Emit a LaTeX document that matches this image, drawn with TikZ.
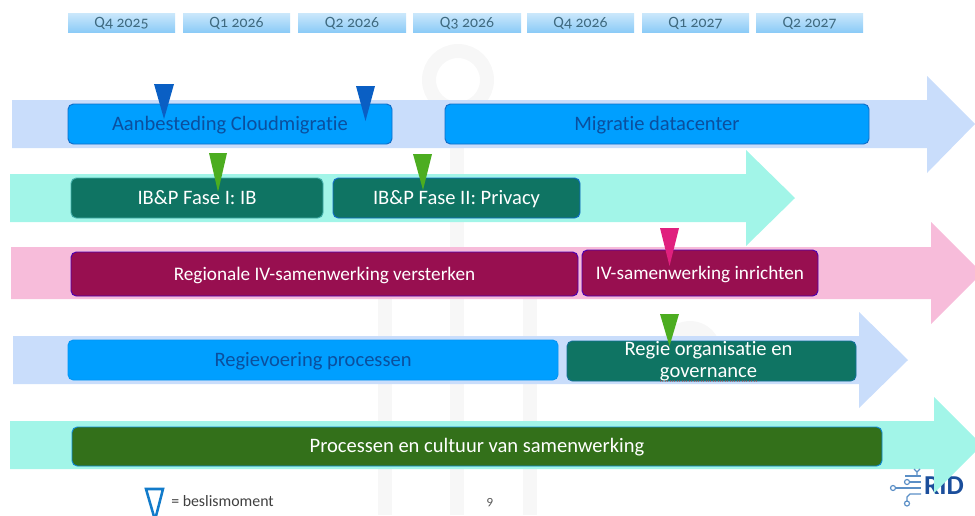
\documentclass[tikz,border=0pt]{standalone}
\usepackage{fontspec}
\setmainfont[Numbers=OldStyle,Ligatures=NoCommon]{Carlito}
\definecolor{lblue}{HTML}{C9DDFB}
\definecolor{lteal}{HTML}{A2F5E8}
\definecolor{lpink}{HTML}{F7BCDA}
\definecolor{bblue}{HTML}{009FFF}
\definecolor{eblue}{HTML}{0F6CC8}
\definecolor{tblue}{HTML}{0B4F9E}
\definecolor{dteal}{HTML}{0F7463}
\definecolor{wine}{HTML}{980F50}
\definecolor{moss}{HTML}{33701A}
\definecolor{triblue}{HTML}{0A5FC4}
\definecolor{trigreen}{HTML}{4CAD20}
\definecolor{tripink}{HTML}{E0207E}
\definecolor{wmark}{HTML}{F7F7F7}
\definecolor{qtext}{HTML}{3F6A80}
\definecolor{logoline}{HTML}{5B8FC6}
\definecolor{logotext}{HTML}{1B4E9B}
\definecolor{QB}{HTML}{8CCBF7}
\newcommand{\pxbox}[7]{%
  \pgfmathsetmacro{\bw}{(#4-#2)*0.75}\pgfmathsetmacro{\bh}{(#5-#3)*0.75}%
  \node[#6,minimum width=\bw pt,minimum height=\bh pt] (#1) at ({(#2+#4)/2},{(#3+#5)/2}) {#7};}
\tikzset{
  x=0.75pt,y=-0.75pt,
  band/.style={fill=#1,draw=none},
  wm/.style={draw=wmark,line width=10.5pt},
  quarter/.style={rectangle,inner sep=0pt,top color=QB!45!white,bottom color=QB,draw=none,text=qtext,text height=9.5pt,text depth=2pt,font=\fontsize{11.8}{13}\selectfont},
  task/.style={rectangle,rounded corners=4pt,inner sep=0pt,line width=0.7pt,text height=12pt,text depth=3pt,font=\fontsize{15.4}{18}\selectfont,align=center},
  bluetask/.style={task,fill=bblue,draw=eblue,text=tblue},
  bluetaskb/.style={task,fill=bblue,draw=bblue!80!eblue,text=tblue},
  tealtask/.style={task,fill=dteal,draw=eblue,text=white},
  tealtaskb/.style={task,fill=dteal,draw=teal!60!lteal,text=white},
  winetask/.style={task,fill=wine,draw=violet!60!blue,text=white,font=\fontsize{14.4}{17}\selectfont},
  mosstask/.style={task,fill=moss,draw=cyan!70!blue,text=white},
  overlabel/.style={font=\fontsize{15.4}{18}\selectfont,text=white,inner sep=0pt},
  tri/.style={fill=#1,draw=none},
  lg/.style={draw=logoline,line width=0.9pt}
}
\begin{document}
\begin{tikzpicture}
\useasboundingbox (0,0) rectangle (975,515);
\clip (0,0) rectangle (975,515);
% watermark
\draw[wm] (458,80) circle (29);
\draw[wm] (457,110) -- (457,515);
\draw[wm] (385,260) -- (385,515);
\draw[wm] (530,260) -- (530,515);
\draw[wm] (265,258) arc (180:0:29);
\draw[wm] (505,258) arc (180:0:25);
\fill[wmark] (690,352) circle (31);
% logo text (lies below the last arrow)
\node[font=\bfseries\fontsize{20.5}{22}\selectfont,text=logotext,inner sep=0pt] (logo) at (944,486) {RID};
% band arrows
\fill[band=lblue] (12,100) -- (927,100) -- (927,76) -- (975,124) -- (927,173) -- (927,148) -- (12,148) -- cycle;
\fill[band=lteal] (10,174) -- (746,174) -- (746,150) -- (795,198) -- (746,246) -- (746,222) -- (10,222) -- cycle;
\fill[band=lpink] (11,247) -- (931,247) -- (931,222) -- (982,273) -- (931,324) -- (931,299) -- (11,299) -- cycle;
\fill[band=lblue] (13,336) -- (859,336) -- (859,312) -- (908,360) -- (859,408) -- (859,384) -- (13,384) -- cycle;
\fill[band=lteal] (10,421) -- (934,421) -- (934,397) -- (982,445) -- (934,493) -- (934,469) -- (10,469) -- cycle;
% quarters
\pxbox{q1}{68}{13}{175}{32}{quarter}{Q4 2025}
\pxbox{q2}{183}{13}{290}{32}{quarter}{Q1 2026}
\pxbox{q3}{298}{13}{406}{32}{quarter}{Q2 2026}
\pxbox{q4}{413}{13}{521}{32}{quarter}{Q3 2026}
\pxbox{q5}{527}{13}{634}{32}{quarter}{Q4 2026}
\pxbox{q6}{642}{13}{749}{32}{quarter}{Q1 2027}
\pxbox{q7}{756}{13}{863}{32}{quarter}{Q2 2027}
% tasks
\pxbox{t1}{68}{104}{392}{144}{bluetask}{Aanbesteding Cloudmigratie}
\pxbox{t2}{445}{104}{869}{144}{bluetask}{Migratie datacenter}
\pxbox{t3}{71}{178}{323}{218}{tealtaskb}{IB\&P Fase I: IB}
\pxbox{t4}{333}{178}{580}{218}{tealtask}{IB\&P Fase II: Privacy}
\pxbox{t5}{71}{252}{578}{296}{winetask}{Regionale IV-samenwerking versterken}
\pxbox{t6}{582}{250}{818}{296}{winetask}{IV-samenwerking inrichten}
\pxbox{t7}{68}{340}{558}{380}{bluetaskb}{Regievoering processen}
\pxbox{t8}{567}{341}{856}{381}{task,fill=dteal,draw=eblue!50!dteal,text=white}{}
\pxbox{t9}{72}{427}{882}{466}{mosstask}{Processen en cultuur van samenwerking}
% decision triangles
\fill[tri=triblue] (154,84) -- (174,84) -- (164,119) -- cycle;
\fill[tri=triblue] (356,86) -- (375,86) -- (365.5,121) -- cycle;
\fill[tri=trigreen] (209,153) -- (227,153) -- (218,192) -- cycle;
\fill[tri=trigreen] (413,154) -- (432,154) -- (423,190) -- cycle;
\fill[tri=tripink] (660,228) -- (679,228) -- (669.5,266) -- cycle;
\fill[tri=trigreen] (660,314) -- (679,314) -- (669.5,346) -- cycle;
% label of t8 sits above its triangle
\node[overlabel] (t8a) at (708.5,350.5) {Regie organisatie en};
\node[overlabel] (t8b) at (708.5,374.5) {governance};
\draw[red!50!gray,opacity=.5,line width=0.8pt,densely dotted] (660,381) -- (758,381);
% legend
\draw[draw=cyan!60!blue,line width=1.9pt] (146,489) -- (163,489) -- (155,520) -- cycle;
\node[anchor=west,inner sep=0pt,text=black!75,font=\fontsize{11.9}{13}\selectfont] (leg) at (171,501) {= beslismoment};
\node[inner sep=0pt,text=black!65,font=\fontsize{10}{11}\selectfont] (pg) at (490,503) {9};
% logo circuit
\draw[lg] (893,488) circle (2.5);
\draw[lg] (895.5,488) -- (921,488);
\draw[lg] (907,482) circle (2.5);
\draw[lg] (909.5,482) -- (921,482);
\draw[lg] (905,476) -- (921,476);
\draw[lg] (917,476) -- (917,471) (917,472) -- (914,469) (917,472) -- (920,469);
\draw[lg] (921,494) -- (910,494) -- (907,497) -- (907,501);
\draw[lg] (907,503.5) circle (2.5);
\end{tikzpicture}
\end{document}
